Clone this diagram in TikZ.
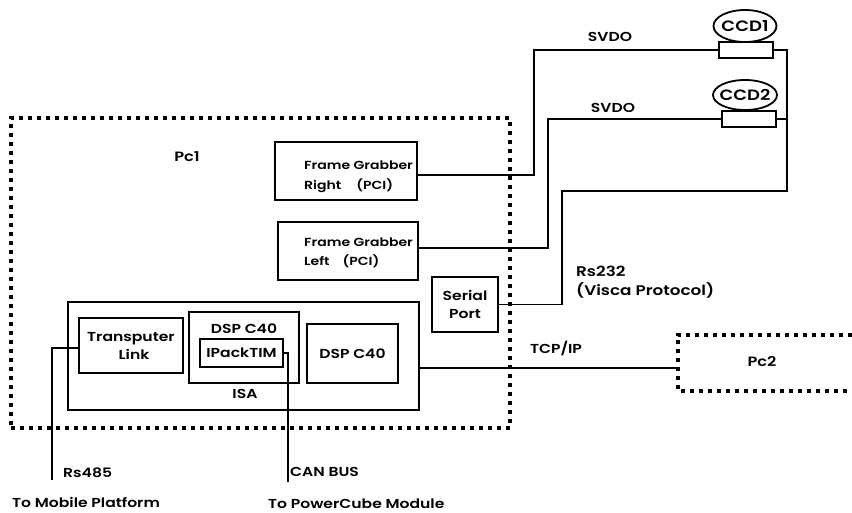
\documentclass[tikz,border=0pt]{standalone}
\usepackage{fontspec}
\setmainfont{Poppins}[FakeStretch=1.2, UprightFont={Poppins Medium}, BoldFont={Poppins SemiBold}]
\usetikzlibrary{fit,shapes.geometric}
\begin{document}
\begin{tikzpicture}[x=1pt,y=-1pt,
  box/.style={draw, line width=1.8pt, inner sep=0pt},
  wire/.style={line width=1.6pt, line join=miter},
  pcdots/.style={line width=3.6pt, dash pattern=on 4pt off 5pt},
  lbl/.style={inner sep=0pt, font=\fontsize{11.7}{20}\selectfont\bfseries},
  blbl/.style={inner sep=0pt, font=\fontsize{13}{18}\selectfont\bfseries},
  pclbl/.style={inner sep=0pt, font=\fontsize{13.5}{16}\selectfont\bfseries},
  camlbl/.style={inner sep=0pt, font=\fontsize{15}{18}\selectfont\bfseries}]
\useasboundingbox (0,0) rectangle (852,513);

% computers
\node[fit={(11,118) (510,428)}, inner sep=0pt, draw, pcdots] (pc1) {};
\node[pclbl] (pc1t) at (187,157) {Pc1};
\node[fit={(678,335) (852,391)}, inner sep=0pt] (pc2) {};
\draw[pcdots] (pc2.north east) -- (pc2.north west) -- (pc2.south west) -- (pc2.south east);
\node[pclbl] (pc2t) at (762,362) {Pc2};

% frame grabbers
\node[box, fit={(275,142) (417,200)}] (fgr) {};
\node[lbl, anchor=base west] (fgr1) at (304,170) {Frame Grabber};
\node[lbl, anchor=base west] (fgr2) at (304,190) {Right\hspace{15pt}(PCI)};
\node[box, fit={(278,222) (418,280)}] (fgl) {};
\node[lbl, anchor=base west] (fgl1) at (304,247) {Frame Grabber};
\node[lbl, anchor=base west] (fgl2) at (304,266) {Left\hspace{13pt}(PCI)};

% serial port
\node[box, fit={(432,277) (498,332)}] (sp) {};
\node[blbl, align=center] (spt) at (sp.center) {Serial\\Port};

% ISA bus and its cards
\node[box, fit={(68,302) (419,410)}] (isa) {};
\node[blbl] (isat) at (245,394) {ISA};
\node[box, fit={(79,318) (183,373)}] (tl) {};
\node[blbl, align=center] (tlt) at (131,346) {Transputer\\\hspace{6pt}Link};
\node[box, fit={(189,312) (299,383)}] (dspa) {};
\node[blbl] (dspat) at (244,329) {DSP C40};
\node[box, fit={(200,339) (283,367)}] (ip) {};
\node[blbl] (ipt) at (ip.center) {IPackTIM};
\node[box, fit={(307,324) (398,383)}] (dspb) {};
\node[blbl] (dspbt) at (dspb.center) {DSP C40};

% cameras
\node[draw, line width=1.8pt, ellipse, minimum width=63pt, minimum height=32pt, inner sep=0pt] (ccd1) at (745,26) {};
\node[camlbl] (ccd1t) at (ccd1.center) {CCD1};
\node[box, fit={(719,42) (773,58)}] (ccd1r) {};
\node[draw, line width=1.8pt, ellipse, minimum width=64pt, minimum height=30pt, inner sep=0pt] (ccd2) at (745,95) {};
\node[camlbl] (ccd2t) at (ccd2.center) {CCD2};
\node[box, fit={(722,111) (776,127)}] (ccd2r) {};

% video links
\coordinate (sv1) at (534,50);
\coordinate (sv2) at (548,119);
\draw[wire] ([yshift=-4pt]fgr.east) -| (sv1) -- (ccd1r.west);
\draw[wire] ([yshift=3pt]fgl.east) -| (sv2) -- (ccd2r.west);
\node[blbl] (svdo1) at (610,37) {SVDO};
\node[blbl] (svdo2) at (613,108) {SVDO};

% Visca control line
\coordinate (cr) at (787,191);
\coordinate (cs) at (562,191);
\draw[wire] (ccd1r.east) -| (cr) -- (cs) |- (sp.east);
\draw[wire] (ccd2r.east) -- (ccd2r.east -| cr);
\node[blbl, font=\fontsize{14}{19}\selectfont\bfseries, anchor=west, align=left] (rs232) at (576,282) {Rs232\\(Visca Protocol)};

% network
\draw[wire] ([yshift=-12pt]isa.east) -- ([yshift=-12pt]isa.east -| pc2.west);
\node[blbl] (tcp) at (556,349) {TCP/IP};

% external buses
\coordinate (rsend) at (52,480);
\coordinate (canend) at (288,482);
\draw[wire] ([yshift=-2.5pt]tl.west) -| (rsend);
\draw[wire] (ip.east) -| (canend);
\node[blbl, anchor=west] (rs485) at (63,473) {Rs485};
\node[blbl, anchor=west] (mob) at (12,502) {To Mobile Platform};
\node[blbl, anchor=west] (can) at (290,472) {CAN BUS};
\node[blbl, anchor=west] (pcube) at (268,504) {To PowerCube Module};
\end{tikzpicture}
\end{document}
